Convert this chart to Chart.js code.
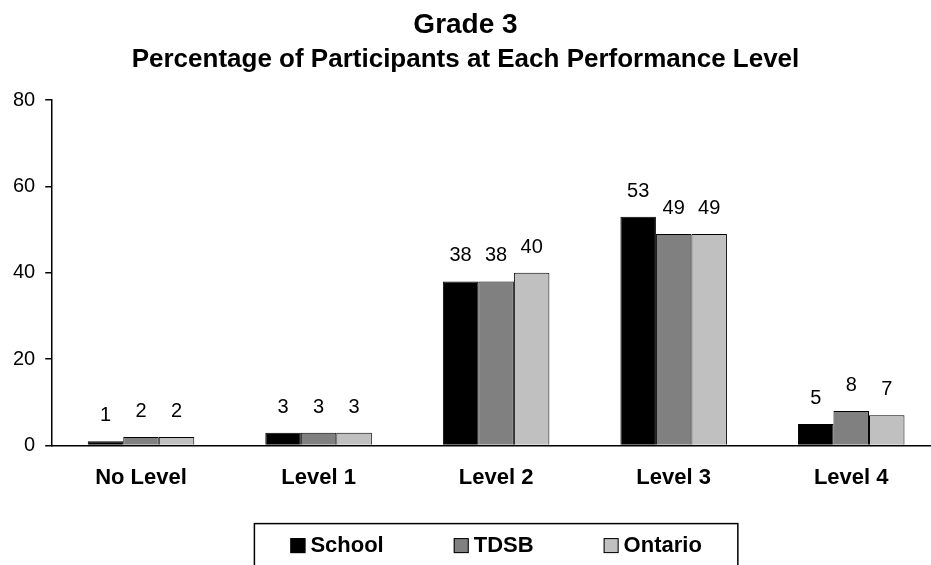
<!DOCTYPE html>
<html>
<head>
<meta charset="utf-8">
<script src="https://cdn.jsdelivr.net/npm/chart.js@4.4.0/dist/chart.umd.min.js"></script>
<style>
  body { margin: 0; background: #fff; overflow: hidden; }
  #wrap { width: 931px; height: 565px; overflow: hidden; }
</style>
</head>
<body>
<div id="wrap"><canvas id="chart" width="940" height="565"></canvas></div>
<script>
const titleText = 'Grade 3';
const subtitleText = 'Percentage of Participants at Each Performance Level';
const levels = ['No Level', 'Level 1', 'Level 2', 'Level 3', 'Level 4'];
const school = [1, 3, 38, 53, 5];
const tdsb = [2, 3, 38, 49, 8];
const ontario = [2, 3, 40, 49, 7];
const yTicks = [0, 20, 40, 60, 80];

const FONT = "'Liberation Sans', Arial, sans-serif";
const VIEW_W = 931; // the plot runs a little past the visible edge, as in the original

// headings, value labels and the boxed legend get painted here
const decorations = {
    id: 'decorations',
    afterDraw(chart) {
        const ctx = chart.ctx;
        const area = chart.chartArea;
        ctx.save();
        ctx.fillStyle = '#000';
        ctx.textAlign = 'center';
        ctx.textBaseline = 'alphabetic';
        ctx.font = 'bold 28px ' + FONT;
        ctx.fillText(titleText, VIEW_W / 2, 33);
        ctx.font = 'bold 26px ' + FONT;
        ctx.fillText(subtitleText, VIEW_W / 2, 67);

        // values above bars
        ctx.font = '20px ' + FONT;
        chart.data.datasets.forEach((ds, i) => {
            chart.getDatasetMeta(i).data.forEach((bar, j) => {
                ctx.fillText(Math.round(ds.data[j]), bar.x, bar.y - 20);
            });
        });

        // legend
        ctx.font = 'bold 22px ' + FONT;
        const sw = 15, gap = 5, spacing = 70, margin = 36;
        const items = chart.data.datasets.map(ds => ({ ds, w: sw + gap + ctx.measureText(ds.label).width }));
        const total = items.reduce((s, it) => s + it.w, 0) + spacing * (items.length - 1);
        let x = (area.left + area.right) / 2 - total / 2;
        const top = area.bottom + 78;
        const midY = top + 22;
        ctx.lineWidth = 1.5;
        ctx.strokeStyle = '#000';
        ctx.strokeRect(x - margin, top, total + margin * 2, 60);
        ctx.textAlign = 'left';
        ctx.textBaseline = 'middle';
        ctx.lineWidth = 1;
        items.forEach(it => {
            ctx.fillStyle = it.ds.backgroundColor;
            ctx.fillRect(x, midY - sw / 2, sw, sw);
            ctx.strokeRect(x + 0.5, midY - sw / 2 + 0.5, sw - 1, sw - 1);
            ctx.fillStyle = '#000';
            ctx.fillText(it.ds.label, x + sw + gap, midY);
            x += it.w + spacing;
        });
        ctx.restore();
    }
};

const ctx = document.getElementById('chart').getContext('2d');

const chart = new Chart(ctx, {
    type: 'bar',
    data: {
        labels: levels,
        datasets: [
            { label: 'School', data: school, backgroundColor: '#000000' },
            { label: 'TDSB', data: tdsb, backgroundColor: '#808080' },
            { label: 'Ontario', data: ontario, backgroundColor: '#c0c0c0' }
        ]
    },
    options: {
        responsive: false,
        animation: false,
        devicePixelRatio: 1,
        layout: { padding: { top: 100, left: 3, right: 0, bottom: 55 } },
        datasets: {
            bar: {
                borderColor: '#000',
                borderWidth: 1,
                barPercentage: 1,
                categoryPercentage: 0.6
            }
        },
        plugins: {
            legend: { display: false },
            title: { display: false },
            tooltip: { enabled: false }
        },
        scales: {
            x: {
                grid: { display: false, drawTicks: false },
                border: { color: '#000', width: 1.5 },
                ticks: {
                    color: '#000',
                    padding: 19,
                    font: { family: FONT, size: 22, weight: 'bold' }
                }
            },
            y: {
                min: yTicks[0],
                max: yTicks[yTicks.length - 1],
                afterBuildTicks: axis => { axis.ticks = yTicks.map(v => ({ value: v })); },
                grid: { drawOnChartArea: false, tickLength: 7, color: '#000', lineWidth: 1.5 },
                border: { color: '#000', width: 1.5 },
                ticks: {
                    color: '#000',
                    padding: 10,
                    font: { family: FONT, size: 20 }
                }
            }
        }
    },
    plugins: [decorations]
});
</script>
</body>
</html>
